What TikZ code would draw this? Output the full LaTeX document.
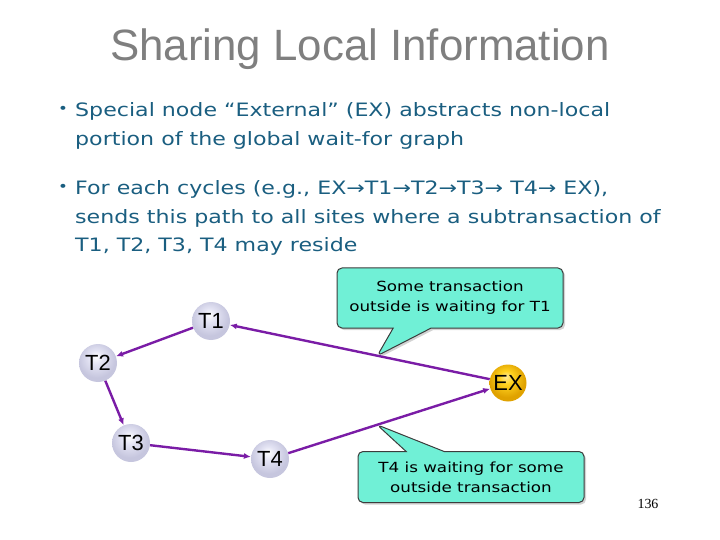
\documentclass[tikz,border=0pt]{standalone}
\usepackage{fontspec}
\setmainfont{Liberation Sans}
\newfontfamily\comicfont[FakeStretch=1.2]{DejaVu Sans}
\newfontfamily\pagefont{Liberation Serif}
\usetikzlibrary{arrows.meta,calc,shapes.callouts,shadows}
\definecolor{titlegray}{HTML}{7F7F7F}
\definecolor{bodyblue}{HTML}{1A5E80}
\definecolor{waitpurple}{HTML}{7A1CA6}
\definecolor{txnfill}{HTML}{E4E4F4}
\definecolor{txnedge}{HTML}{C6C6DE}
\definecolor{exfill}{HTML}{FFD21F}
\definecolor{exedge}{HTML}{E0A200}
\definecolor{calloutfill}{HTML}{70F0D6}
\definecolor{calloutedge}{HTML}{3C3C3C}
\pgfdeclareradialshading{txnball}{\pgfpoint{-3bp}{9bp}}{color(0bp)=(white); color(9bp)=(txnfill); color(24bp)=(txnedge); color(50bp)=(txnedge)}
\pgfdeclareradialshading{exball}{\pgfpoint{-3bp}{9bp}}{color(0bp)=(exfill!45!white); color(9bp)=(exfill); color(24bp)=(exedge); color(50bp)=(exedge)}

\begin{document}
\begin{tikzpicture}[x=1bp,y=-1bp,
  txn/.style={circle,minimum size=38bp,inner sep=0pt,shading=txnball,font=\fontsize{22}{24}\selectfont},
  extnode/.style={circle,minimum size=37bp,inner sep=0pt,shading=exball,font=\fontsize{22}{24}\selectfont},
  waits/.style={-{Latex[length=7bp,width=6bp]},line width=2.4bp,waitpurple},
  callbox/.style={rectangle callout,draw=calloutedge,fill=calloutfill,line width=1bp,rounded corners=5bp,
    drop shadow={shadow xshift=2bp,shadow yshift=-2bp,opacity=.35},callout pointer width=38bp,
    minimum width=226bp,minimum height=60bp,align=center,font=\comicfont\fontsize{14}{20}\selectfont},
  bullettext/.style={anchor=north west,inner sep=0pt,align=left,text=bodyblue,font=\comicfont\fontsize{18.5}{29}\selectfont},
  bulletdot/.style={inner sep=0pt,text=bodyblue,font=\comicfont\fontsize{14}{16}\selectfont}]
\useasboundingbox (0,0) rectangle (720,540);
\node[anchor=base,text=titlegray,font=\fontsize{44}{50}\selectfont] (title) at (360,61) {Sharing Local Information};
% bullets
\node[bulletdot] (dotA) at (63,110) {•};
\node[bullettext] (itemA) at (75,102) {Special node “External” (EX) abstracts non-local\\portion of the global wait-for graph};
\node[bulletdot] (dotB) at (63,188) {•};
\node[bullettext] (itemB) at (75,180) {For each cycles (e.g., EX→T1→T2→T3→ T4→ EX),\\sends this path to all sites where a subtransaction of\\T1, T2, T3, T4 may reside};
% wait-for graph
\node[txn] (t1) at (211,321) {T1};
\node[txn] (t2) at (98,363) {T2};
\node[txn] (t3) at (131,443) {T3};
\node[txn] (t4) at (270,459) {T4};
\node[extnode] (ex) at (508,383) {EX};
\coordinate (tipA) at ($(ex)!0.44!(t1)$);
\coordinate (tipB) at ($(t4)!0.45!(ex)$);
\node[callbox,callout absolute pointer=(tipA)] (noteA) at (450,298) {Some transaction\\outside is waiting for T1};
\node[callbox,minimum height=51bp,callout absolute pointer=(tipB)] (noteB) at (471,477) {T4 is waiting for some\\outside transaction};
\draw[waits] (ex) -- (t1);
\draw[waits] (t1) -- (t2);
\draw[waits] (t2) -- (t3);
\draw[waits] (t3) -- (t4);
\draw[waits] (t4) -- (ex);
\node[font=\pagefont\fontsize{14}{16}\selectfont] (pageno) at (648,504) {136};
\end{tikzpicture}
\end{document}
